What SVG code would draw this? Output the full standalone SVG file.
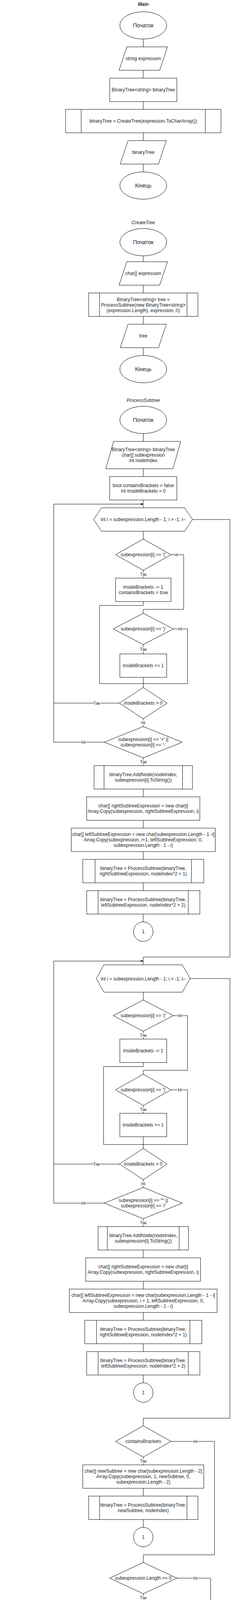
<svg xmlns="http://www.w3.org/2000/svg" width="602" height="7001" viewBox="0 0 602 7001">
<defs>
<style>
.s{fill:#fff;stroke:#000;stroke-width:1}
.c{fill:none;stroke:#000;stroke-width:1}
text{font-family:"Liberation Sans",Arial,Helvetica,sans-serif;fill:#222;text-anchor:middle;font-size:12px}
.e{font-size:14px}
.l{font-size:11px;stroke:#fff;stroke-width:4px;paint-order:stroke;stroke-linejoin:round}
.ti{font-style:italic}
.b{font-weight:bold}
.st{text-anchor:start}
</style>
<marker id="arr" markerWidth="8" markerHeight="8" refX="7" refY="4" orient="auto" markerUnits="userSpaceOnUse"><path d="M0,0.5 L7,4 L0,7.5 L2,4 Z" fill="#000"/></marker>
</defs>
<rect width="602" height="7001" fill="#fff"/>

<g id="connectors">
<path class="c" d="M367,100V120M367,180V200M367,260V280M367,340V360M367,420V440"/>
<path class="c" d="M367,655V670M367,730V750M367,810V830M367,890V910"/>
<path class="c" d="M367,1110V1130M367,1200V1220M367,1280V1300"/>
<path class="c" d="M137.7,1900V1290.5H367" marker-end="url(#arr)"/>
<path class="c" d="M493,1330H589V2450H367V2470"/>
<path class="c" d="M367,1360V1380M438,1420H470.6V1560H367V1570M367,1460V1480M367,1540V1550H255V1750M255,1750H480.4M444,1610H480.4V1750M367,1650V1674M367,1734V1760M306,1800H137.7M367,1840V1860M267,1900H137.7M367,1940V1960"/>
<path class="c" d="M367,2020V2040M367,2100V2120M367,2180V2200M367,2260V2280M367,2340V2360"/>
<path class="c" d="M137.7,3080V2460.3H367" marker-end="url(#arr)"/>
<path class="c" d="M487,2505H589V3630.5H367V3650"/>
<path class="c" d="M367,2540V2560M444,2600H480.4V2740H367V2750M367,2640V2660M367,2720V2730.5H265.2V2930M265.2,2930H480.4M438,2790H480.4V2930M367,2830V2850M367,2910V2940M306,2980H137.7M367,3020V3040M267,3080H137.7M367,3120V3140"/>
<path class="c" d="M367,3200V3220M367,3280V3300M367,3360V3380M367,3440V3460M367,3520V3540"/>
<path class="c" d="M438,3690H549.3V3980.4H367V4000M367,3730V3750M367,3810V3830M367,3890V3910M453,4040H539.5V4250H367V4270M367,4080V4100M367,4160V4180M367,4330V4400M367,4365H394M367,4460V4480"/>
<path class="c" d="M367,4720V4738M367,4798V4818M457,4858H529.7V4988H367M367,4898V4918M367,4978V4998M367,5058V5078"/>
<path class="c" d="M367,5280V5300M367,5360V5380M516.5,5420H549.3V5560H367M367,5460V5480M367,5540V5570M512,5610H568.8V5740H367M367,5650V5670M367,5730V5750M512,5790H568.8V5920H367M367,5830V5850M367,5910V5930M367,5990V6010M367,6070V6090"/>
<path class="c" d="M367,6290V6310M367,6370V6390M367,6450V6470M497,6515H549.3V6650H367M367,6560V6580M367,6640V6660M499,6705H549.3V6839H367M367,6750V6770M367,6830V6849M367,6909V6930"/>
<g id="edge-labels">
<text class="l" x="451.5" y="1424">Ні</text><text class="l" x="367" y="1474">Так</text>
<text class="l" x="462" y="1614">Ні</text><text class="l" x="367" y="1666">Так</text>
<text class="l" x="247.6" y="1804">Так</text><text class="l" x="367" y="1854">Ні</text>
<text class="l" x="213.7" y="1904">Ні</text><text class="l" x="367" y="1954">Так</text>
<text class="l" x="460" y="2604">Ні</text><text class="l" x="367" y="2654">Так</text>
<text class="l" x="461" y="2794">Ні</text><text class="l" x="367" y="2844">Так</text>
<text class="l" x="247.6" y="2984">Так</text><text class="l" x="367" y="3034">Ні</text>
<text class="l" x="213.7" y="3084">Ні</text><text class="l" x="367" y="3134">Так</text>
<text class="l" x="500.4" y="3694">Ні</text><text class="l" x="367" y="3744">Так</text>
<text class="l" x="500.4" y="4044">Ні</text><text class="l" x="367" y="4094">Так</text>
<text class="l" x="500.4" y="4862">Ні</text><text class="l" x="367" y="4912">Так</text>
<text class="l" x="530.5" y="5424">Ні</text><text class="l" x="367" y="5474">Так</text>
<text class="l" x="539.5" y="5614">Ні</text><text class="l" x="367" y="5664">Так</text>
<text class="l" x="539.5" y="5794">Ні</text><text class="l" x="367" y="5844">Так</text>
<text class="l" x="529.7" y="6519">Ні</text><text class="l" x="367" y="6574">Так</text>
<text class="l" x="530.5" y="6709">Ні</text><text class="l" x="367" y="6763.5">Так</text>
</g>
</g>

<!-- Main -->
<g id="main-title"><text class="ti b" x="367" y="15">Main</text></g>
<g id="main-start"><ellipse class="s" cx="367" cy="65" rx="60" ry="35"/><text class="e" x="367" y="70">Початок</text></g>
<g id="main-input"><polygon class="s" points="325,120 429,120 409,180 305,180"/><text x="367" y="154">string expression</text></g>
<g id="main-decl"><rect class="s" x="281" y="200" width="172" height="60"/><text x="367" y="234">BinaryTree&lt;string&gt; binaryTree</text></g>
<g id="main-create"><rect class="s" x="168" y="280" width="398" height="60"/><path class="c" d="M208,280V340M526,280V340"/><text x="367" y="314">binaryTree = CreateTree(expression.ToCharArray())</text></g>
<g id="main-output"><polygon class="s" points="328,360 426,360 406,420 308,420"/><text x="367" y="394">binaryTree</text></g>
<g id="main-end"><ellipse class="s" cx="367" cy="475" rx="60" ry="35"/><text class="e" x="367" y="480">Кінець</text></g>

<!-- CreateTree -->
<g id="ct-title"><text class="ti" x="367" y="574">CreateTree</text></g>
<g id="ct-start"><ellipse class="s" cx="367" cy="620" rx="60" ry="35"/><text class="e" x="367" y="625">Початок</text></g>
<g id="ct-input"><polygon class="s" points="325,670 429,670 409,730 305,730"/><text x="367" y="704">char[] expression</text></g>
<g id="ct-process"><rect class="s" x="227" y="750" width="280" height="60"/><path class="c" d="M255,750V810M479,750V810"/><text x="367" y="770.5">BinaryTree&lt;string&gt; tree =<tspan x="367" dy="14">ProcessSubtree(new BinaryTree&lt;string&gt;</tspan><tspan x="367" dy="14">(expression.Length), expression, 0)</tspan></text></g>
<g id="ct-output"><polygon class="s" points="328,830 426,830 406,890 308,890"/><text x="367" y="864">tree</text></g>
<g id="ct-end"><ellipse class="s" cx="367" cy="945" rx="60" ry="35"/><text class="e" x="367" y="950">Кінець</text></g>

<!-- ProcessSubtree -->
<g id="ps-title"><text class="ti" x="367" y="1029">ProcessSubtree</text></g>
<g id="ps-start"><ellipse class="s" cx="367" cy="1075" rx="60" ry="35"/><text class="e" x="367" y="1080">Початок</text></g>
<g id="ps-input"><polygon class="s" points="291,1130 463,1130 443,1200 271,1200"/><text x="367" y="1155">BinaryTree&lt;string&gt; binaryTree<tspan x="367" dy="14">char[] subexpression</tspan><tspan x="367" dy="14">int nodeIndex</tspan></text></g>
<g id="ps-decl"><rect class="s" x="281" y="1220" width="172" height="60"/><text x="367" y="1247">bool containsBrackets = false<tspan x="367" dy="14">int insideBrackets = 0</tspan></text></g>
<g id="ps-loop1"><polygon class="s" points="260,1300 473,1300 493,1330 473,1360 260,1360 240,1330"/><text x="367" y="1334">int i = subexpression.Length - 1; i &gt; -1; i--</text></g>
<g id="ps-if-open1"><polygon class="s" points="367,1380 438,1420 367,1460 296,1420"/><text x="367" y="1424">subexpression[i] == '('</text></g>
<g id="ps-open1"><rect class="s" x="296" y="1480" width="142" height="60"/><text x="367" y="1507">insideBrackets -= 1<tspan x="367" dy="14">containsBrackets = true</tspan></text></g>
<g id="ps-if-close1"><polygon class="s" points="367,1570 444,1610 367,1650 290,1610"/><text x="367" y="1614">subexpression[i] == ')'</text></g>
<g id="ps-close1"><rect class="s" x="307" y="1674" width="120" height="60"/><text x="367" y="1708">insideBrackets += 1</text></g>
<g id="ps-if-inside1"><polygon class="s" points="367,1760 428,1800 367,1840 306,1800"/><text x="367" y="1804">insideBrackets &gt; 0</text></g>
<g id="ps-if-plus"><polygon class="s" points="367,1860 467,1900 367,1940 267,1900"/><text x="367" y="1897">subexpression[i] == '+' ||<tspan x="367" dy="14">subexpression[i] == '-'</tspan></text></g>
<g id="ps-addnode1"><rect class="s" x="241" y="1960" width="252" height="60"/><path class="c" d="M266.5,1960V2020M467.5,1960V2020"/><text x="367" y="1987">binaryTree.AddNode(nodeIndex,<tspan x="367" dy="14">subexpression[i].ToString())</tspan></text></g>
<g id="ps-right1"><rect class="s" x="222" y="2040" width="290" height="60"/><text x="367" y="2067">char[] rightSubtreeExpression = new char[i]<tspan x="367" dy="14">Array.Copy(subexpression, rightSubtreeExpression, i)</tspan></text></g>
<g id="ps-left1"><rect class="s" x="182.5" y="2120" width="369" height="60"/><text x="367" y="2140">char[] leftSubtreeExpression = new char[subexpression.Length - 1 -i]<tspan x="367" dy="14">Array.Copy(subexpression, i+1, leftSubtreeExpression, 0,</tspan><tspan x="367" dy="14">subexpression.Length - 1 - i)</tspan></text></g>
<g id="ps-subr1"><rect class="s" x="212" y="2200" width="310" height="60"/><path class="c" d="M243.5,2200V2260M490.5,2200V2260"/><text x="367" y="2227">binaryTree = ProcessSubtree(binaryTree,<tspan x="367" dy="14">rightSubtreeExpression, nodeIndex*2 + 1)</tspan></text></g>
<g id="ps-subl1"><rect class="s" x="222" y="2280" width="290" height="60"/><path class="c" d="M251.3,2280V2340M482.3,2280V2340"/><text x="367" y="2307">binaryTree = ProcessSubtree(binaryTree,<tspan x="367" dy="14">leftSubtreeExpression, nodeIndex*2 + 2)</tspan></text></g>
<g id="ps-conn1"><circle class="s" cx="367" cy="2385" r="25"/><text x="367" y="2389">1</text></g>

<g id="ps-loop2"><polygon class="s" points="266,2470 467,2470 487,2505 467,2540 266,2540 247,2505"/><text x="367" y="2509.5">int i = subexpression.Length - 1; i &gt; -1; i--</text></g>
<g id="ps-if-open2"><polygon class="s" points="367,2560 444,2600 367,2640 290,2600"/><text x="367" y="2604">subexpression[i] == '('</text></g>
<g id="ps-open2"><rect class="s" x="307" y="2660" width="120" height="60"/><text x="367" y="2694">insideBrackets -= 1</text></g>
<g id="ps-if-close2"><polygon class="s" points="367,2750 438,2790 367,2830 296,2790"/><text x="367" y="2794">subexpression[i] == ')'</text></g>
<g id="ps-close2"><rect class="s" x="307" y="2850" width="120" height="60"/><text x="367" y="2884">insideBrackets += 1</text></g>
<g id="ps-if-inside2"><polygon class="s" points="367,2940 428,2980 367,3020 306,2980"/><text x="367" y="2984">insideBrackets &gt; 0</text></g>
<g id="ps-if-mul"><polygon class="s" points="367,3040 467,3080 367,3120 267,3080"/><text x="367" y="3077">subexpression[i] == '*' ||<tspan x="367" dy="14">subexpression[i] == '/'</tspan></text></g>
<g id="ps-addnode2"><rect class="s" x="251.3" y="3140" width="231.4" height="60"/><path class="c" d="M275,3140V3200M459,3140V3200"/><text x="367" y="3167">binaryTree.AddNode(nodeIndex,<tspan x="367" dy="14">subexpression[i].ToString())</tspan></text></g>
<g id="ps-right2"><rect class="s" x="219.7" y="3220" width="294" height="60"/><text x="367" y="3247">char[] rightSubtreeExpression = new char[i]<tspan x="367" dy="14">Array.Copy(subexpression, rightSubtreeExpression, i)</tspan></text></g>
<g id="ps-left2"><rect class="s" x="177.6" y="3300" width="378.4" height="60"/><text x="367" y="3320">char[] leftSubtreeExpression = new char[subexpression.Length - 1 - i]<tspan x="367" dy="14">Array.Copy(subexpression, i + 1, leftSubtreeExpression, 0,</tspan><tspan x="367" dy="14">subexpression.Length - 1 - i)</tspan></text></g>
<g id="ps-subr2"><rect class="s" x="217" y="3380" width="300" height="60"/><path class="c" d="M247.2,3380V3440M486.5,3380V3440"/><text x="367" y="3407">binaryTree = ProcessSubtree(binaryTree,<tspan x="367" dy="14">rightSubtreeExpression, nodeIndex*2 + 1)</tspan></text></g>
<g id="ps-subl2"><rect class="s" x="222" y="3460" width="290" height="60"/><path class="c" d="M251.3,3460V3520M482.3,3460V3520"/><text x="367" y="3487">binaryTree = ProcessSubtree(binaryTree,<tspan x="367" dy="14">leftSubtreeExpression, nodeIndex*2 + 2)</tspan></text></g>
<g id="ps-conn2"><circle class="s" cx="367" cy="3565" r="25"/><text x="367" y="3569">1</text></g>

<g id="ps-if-brackets"><polygon class="s" points="367,3650 438,3690 367,3730 296,3690"/><text x="367" y="3694">containsBrackets</text></g>
<g id="ps-newsub"><rect class="s" x="212" y="3750" width="310" height="60"/><text x="367" y="3770">char[] newSubtree = new char[subexpression.Length - 2]<tspan x="367" dy="14">Array.Copy(subexpression, 1, newSubtree, 0,</tspan><tspan x="367" dy="14">subexpression.Length - 2)</tspan></text></g>
<g id="ps-subnew"><rect class="s" x="227" y="3830" width="280" height="60"/><path class="c" d="M255,3830V3890M479,3830V3890"/><text x="367" y="3857">binaryTree = ProcessSubtree(binaryTree,<tspan x="367" dy="14">newSubtree, nodeIndex)</tspan></text></g>
<g id="ps-conn3"><circle class="s" cx="367" cy="3935" r="25"/><text x="367" y="3939">1</text></g>
<g id="ps-if-empty"><polygon class="s" points="367,4000 453,4040 367,4080 281,4040"/><text x="367" y="4044">subexpression.Length == 0</text></g>
<g id="ps-addzero"><rect class="s" x="236.3" y="4100" width="261.1" height="60"/><path class="c" d="M263,4100V4160M470.7,4100V4160"/><text x="367" y="4134">binaryTree.AddNode(nodeIndex, "0")</text></g>
<g id="ps-conn4"><circle class="s" cx="367" cy="4205" r="25"/><text x="367" y="4209">1</text></g>
<g id="ps-addstr"><rect class="s" x="231.8" y="4270" width="270.5" height="60"/><path class="c" d="M259.2,4270V4330M474.8,4270V4330"/><text x="367" y="4297">binaryTree.AddNode(nodeIndex, new<tspan x="367" dy="14">string(subexpression))</tspan></text></g>
<g id="ps-conn5"><circle class="s" cx="419" cy="4365" r="25"/><text x="419" y="4369">1</text></g>
<g id="ps-output"><polygon class="s" points="328,4400 426,4400 406,4460 308,4460"/><text x="367" y="4434">binaryTree</text></g>
<g id="ps-end"><ellipse class="s" cx="367" cy="4515" rx="60" ry="35"/><text class="e" x="367" y="4520">Кінець</text></g>

<!-- class note -->
<g id="class-note"><text class="st b" x="3" y="4628">public class BinaryTree&lt;T&gt;</text><text class="st" x="3" y="4642">private T[] nodes</text></g>

<!-- AddNode -->
<g id="an-title"><text class="ti" x="367" y="4634.5">AddNode</text></g>
<g id="an-start"><ellipse class="s" cx="367" cy="4685" rx="60" ry="35"/><text class="e" x="367" y="4690">Початок</text></g>
<g id="an-input"><polygon class="s" points="328,4738 426,4738 406,4798 308,4798"/><text x="367" y="4772">int index, T val</text></g>
<g id="an-if"><polygon class="s" points="367,4818 457,4858 367,4898 277,4858"/><text x="367" y="4862">index &gt;= this.nodes.Length</text></g>
<g id="an-resize"><rect class="s" x="231.8" y="4918" width="270.5" height="60"/><text x="367" y="4945">Array.Resize(ref this.nodes,<tspan x="367" dy="14">Math.Max(this.nodes.Length * 2 + 1, index + 1))</tspan></text></g>
<g id="an-assign"><rect class="s" x="296" y="4998" width="142" height="60"/><text x="367" y="5032">this.nodes[index] = val</text></g>
<g id="an-end"><ellipse class="s" cx="367" cy="5113" rx="60" ry="35"/><text class="e" x="367" y="5118">Кінець</text></g>

<!-- PreorderTraversal -->
<g id="pt-title"><text class="ti" x="367" y="5198.5">PreorderTraversal</text></g>
<g id="pt-start"><ellipse class="s" cx="367" cy="5245" rx="60" ry="35"/><text class="e" x="367" y="5250">Початок</text></g>
<g id="pt-decl"><rect class="s" x="237.4" y="5300" width="259.2" height="60"/><text x="367" y="5327">T[] traversedNodes = new T[this.nodes.Length]<tspan x="367" dy="14">int counter = 0</tspan></text></g>
<g id="pt-if0"><polygon class="s" points="367,5380 516.5,5420 367,5460 217,5420"/><text x="367" y="5424">this.nodes.Length != 0 &amp;&amp; this.nodes[0] != null</text></g>
<g id="pt-root"><rect class="s" x="255.8" y="5480" width="222" height="60"/><text x="367" y="5507">traversedNodes[counter] = this.nodes[0]<tspan x="367" dy="14">counter++</tspan></text></g>
<g id="pt-if1"><polygon class="s" points="367,5570 512,5610 367,5650 222,5610"/><text x="367" y="5614">this.nodes.Length &gt; 1 &amp;&amp; this.nodes[1] != null</text></g>
<g id="pt-sub1"><rect class="s" x="197.5" y="5670" width="339" height="60"/><path class="c" d="M231.8,5670V5730M502.3,5670V5730"/><text x="367" y="5690">traversedNodes =<tspan x="367" dy="14">PreorederTraversealSubtree(traversedNodes, 1,</tspan><tspan x="367" dy="14">counter, out counter)</tspan></text></g>
<g id="pt-if2"><polygon class="s" points="367,5750 512,5790 367,5830 222,5790"/><text x="367" y="5794">this.nodes.Length &gt; 2 &amp;&amp; this.nodes[2] != null</text></g>
<g id="pt-sub2"><rect class="s" x="197.5" y="5850" width="339" height="60"/><path class="c" d="M231.8,5850V5910M502.3,5850V5910"/><text x="367" y="5870">traversedNodes =<tspan x="367" dy="14">PreorederTraversealSubtree(traversedNodes, 2,</tspan><tspan x="367" dy="14">counter, out counter)</tspan></text></g>
<g id="pt-resize"><rect class="s" x="251.3" y="5930" width="231.4" height="60"/><text x="367" y="5964">Array.Resize(ref traversedNodes, counter)</text></g>
<g id="pt-output"><polygon class="s" points="328,6010 426,6010 406,6070 308,6070"/><text x="367" y="6044">traversedNodes</text></g>
<g id="pt-end"><ellipse class="s" cx="367" cy="6125" rx="60" ry="35"/><text class="e" x="367" y="6130">Кінець</text></g>

<!-- PreorderTraversalSubtree -->
<g id="pts-title"><text class="ti" x="367" y="6208.5">PreorderTraversalSubtree</text></g>
<g id="pts-start"><ellipse class="s" cx="367" cy="6255" rx="60" ry="35"/><text class="e" x="367" y="6260">Початок</text></g>
<g id="pts-input"><polygon class="s" points="295,6310 458,6310 439,6370 276,6370"/><text x="367" y="6330.5">T[] traversedNodes int index<tspan x="367" dy="14">int buf</tspan><tspan x="367" dy="14">out int counter</tspan></text></g>
<g id="pts-decl"><rect class="s" x="236.3" y="6390" width="261.1" height="60"/><text x="367" y="6410">counter = buf<tspan x="367" dy="14">traversedNodes[counter] = this.nodes[index]</tspan><tspan x="367" dy="14">counter++</tspan></text></g>
<g id="pts-if1"><polygon class="s" points="367,6470 497,6515 367,6560 236,6515"/><text x="367" y="6512">this.nodes.Length &gt; index*2 + 1 &amp;&amp;<tspan x="367" dy="14">this.nodes[index*2 + 1] != null</tspan></text></g>
<g id="pts-sub1"><rect class="s" x="212" y="6580" width="310" height="60"/><path class="c" d="M243.8,6580V6640M490.6,6580V6640"/><text x="367" y="6600">traversedNodes =<tspan x="367" dy="14">PreorederTraversealSubtree(traversedNodes,</tspan><tspan x="367" dy="14">index*2 + 1, counter, out counter)</tspan></text></g>
<g id="pts-if2"><polygon class="s" points="367,6660 499,6705 367,6750 235,6705"/><text x="367" y="6702">this.nodes.Length &gt; index*2 + 2 &amp;&amp;<tspan x="367" dy="14">this.nodes[index*2 + 2] != null</tspan></text></g>
<g id="pts-sub2"><rect class="s" x="207.3" y="6770" width="319.4" height="60"/><path class="c" d="M239.6,6770V6830M494.4,6770V6830"/><text x="367" y="6790">traversedNodes =<tspan x="367" dy="14">PreorederTraversealSubtree(traversedNodes,</tspan><tspan x="367" dy="14">index*2 + 2, counter, out counter)</tspan></text></g>
<g id="pts-output"><polygon class="s" points="328,6849 426,6849 406,6909 308,6909"/><text x="367" y="6883">traversedNodes</text></g>
<g id="pts-end"><ellipse class="s" cx="367" cy="6965" rx="60" ry="35"/><text class="e" x="367" y="6970">Кінець</text></g>
</svg>
